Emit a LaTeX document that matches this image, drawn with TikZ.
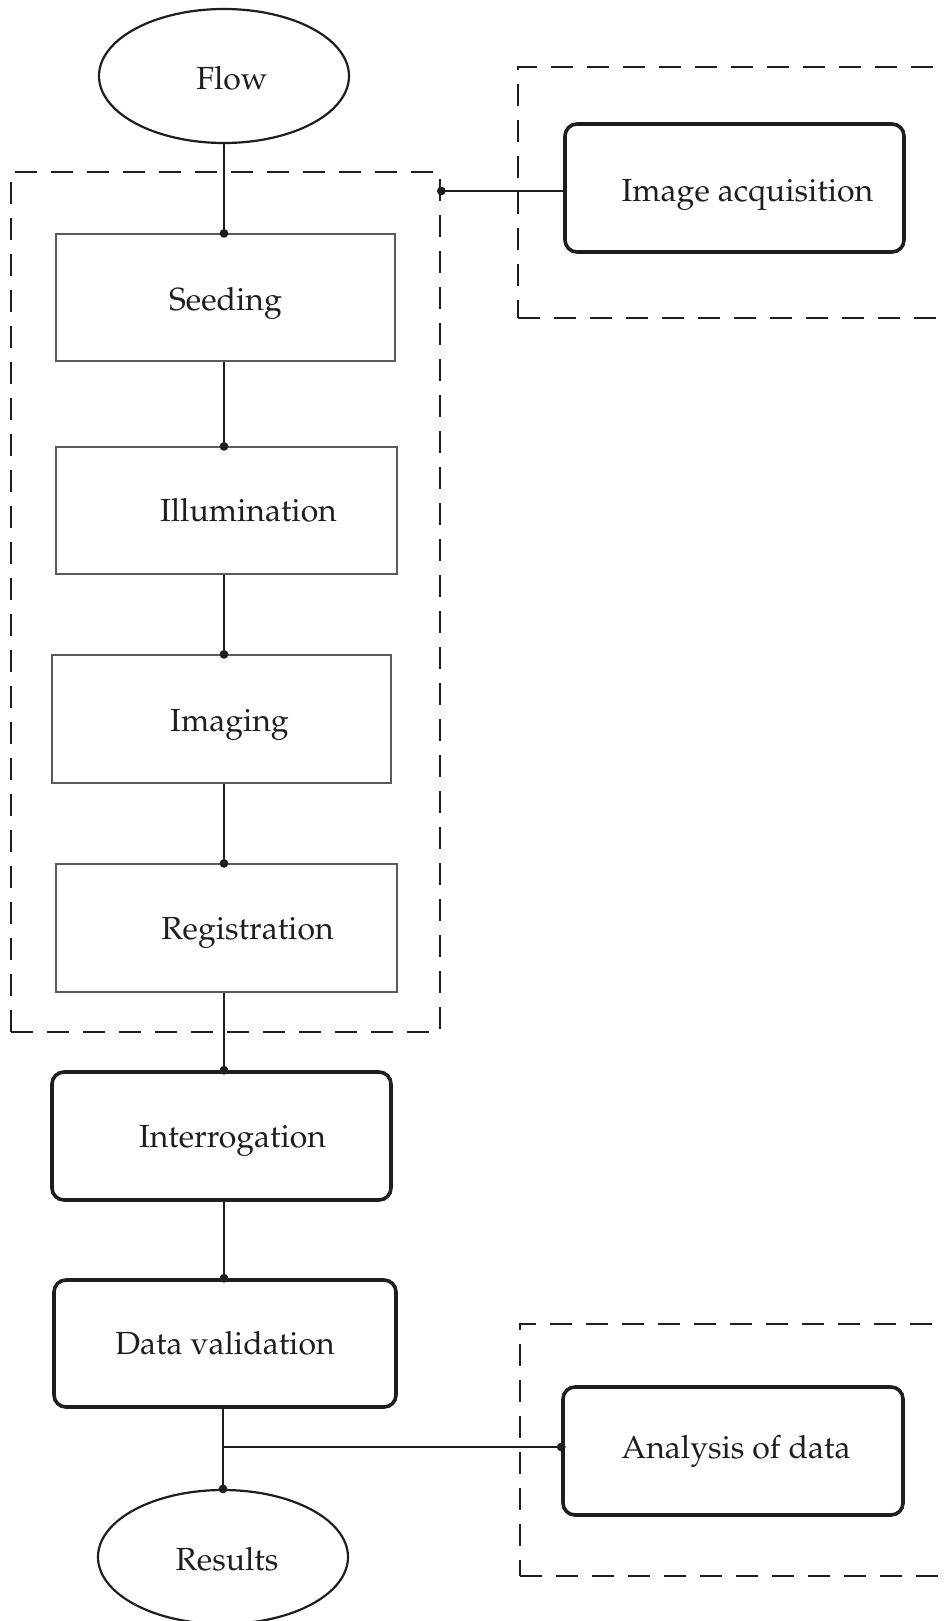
\documentclass[tikz,border=0pt]{standalone}
\usepackage[T1]{fontenc}
\usepackage{mathpazo}
\usetikzlibrary{shapes.geometric,calc}
\definecolor{inkc}{HTML}{1E1E1E}
\definecolor{thinc}{HTML}{5A5A5A}
\tikzset{
  every node/.style={font=\fontsize{16}{20}\selectfont, text=inkc, inner sep=0pt},
  thinbox/.style={draw=thinc, line width=0.6pt, rectangle},
  thickbox/.style={draw=inkc, line width=1.8pt, rectangle, rounded corners=6pt},
  oval/.style={draw=inkc, line width=1.1pt, ellipse, minimum width=125pt, minimum height=67pt},
  groupbox/.style={draw=inkc, line width=1.3pt, dash pattern=on 11pt off 7pt, rectangle},
  conn/.style={draw=inkc, line width=1pt},
  dot/.style={fill=inkc}
}
\begin{document}
\begin{tikzpicture}[x=0.5pt,y=-0.5pt]
\useasboundingbox (0,0) rectangle (944,1621);
% group boxes
\node[groupbox, minimum width=214.5pt, minimum height=430pt] (grpL) at (225.5,602) {};
\node[groupbox, minimum width=221pt, minimum height=125.5pt] (grpT) at (739,192.5) {};
\node[groupbox, minimum width=220pt, minimum height=126pt] (grpB) at (740,1450) {};
% ellipses
\node[oval, label={[xshift=4pt,yshift=-1pt]center:Flow}] (flow) at (224,76) {};
\node[oval, label={[xshift=2pt,yshift=-1pt]center:Results}] (res) at (223,1557) {};
% thin boxes
\node[thinbox, minimum width=169.5pt, minimum height=63.5pt, label={[yshift=-3pt]center:Seeding}] (seed) at (225.5,297.5) {};
\node[thinbox, minimum width=170.5pt, minimum height=63.5pt, label={[xshift=11pt]center:Illumination}] (illu) at (226.5,510.5) {};
\node[thinbox, minimum width=169.5pt, minimum height=64pt, label={[xshift=4pt,yshift=-3pt]center:Imaging}] (imag) at (221.5,719) {};
\node[thinbox, minimum width=170.5pt, minimum height=64pt, label={[xshift=10.5pt,yshift=-2.5pt]center:Registration}] (regi) at (226.5,928) {};
% thick boxes
\node[thickbox, minimum width=169.5pt, minimum height=64pt, label={[xshift=5.5pt,yshift=-2.5pt]center:Interrogation}] (intr) at (221.5,1136) {};
\node[thickbox, minimum width=171pt, minimum height=63.5pt] (dval) at (225,1343.5) {Data validation};
\node[thickbox, minimum width=169.5pt, minimum height=64pt, label={[xshift=6.5pt,yshift=-3.5pt]center:Image acquisition}] (iacq) at (734.5,188) {};
\node[thickbox, minimum width=170pt, minimum height=64pt, label={[xshift=1.5pt]center:Analysis of data}] (anal) at (733,1451) {};
% connectors (vertical spine at x of flow)
\coordinate (s1) at (flow.south |- seed.north);
\coordinate (s2) at (flow.south |- illu.north);
\coordinate (s3) at (flow.south |- imag.north);
\coordinate (s4) at (flow.south |- regi.north);
\coordinate (s5) at (flow.south |- intr.north);
\coordinate (s6) at (flow.south |- dval.north);
\draw[conn] (flow.south) -- (s1);
\draw[conn] (flow.south |- seed.south) -- (s2);
\draw[conn] (flow.south |- illu.south) -- (s3);
\draw[conn] (flow.south |- imag.south) -- (s4);
\draw[conn] (flow.south |- regi.south) -- (s5);
\draw[conn] (flow.south |- intr.south) -- (s6);
\draw[conn] (res.north |- dval.south) -- (res.north);
\coordinate (iaIn) at ($(iacq.west)+(0,3)$);
\coordinate (tapA) at (iaIn -| grpL.east);
\draw[conn] (iaIn) -- (tapA);
\coordinate (anIn) at ($(anal.west)+(0,-4)$);
\draw[conn] (res.north |- anIn) -- (anIn);
\foreach \p in {s1,s2,s3,s4,s5,s6,tapA,res.north,anIn}
  \fill[dot] (\p) circle (2.2pt);
\end{tikzpicture}
\end{document}
